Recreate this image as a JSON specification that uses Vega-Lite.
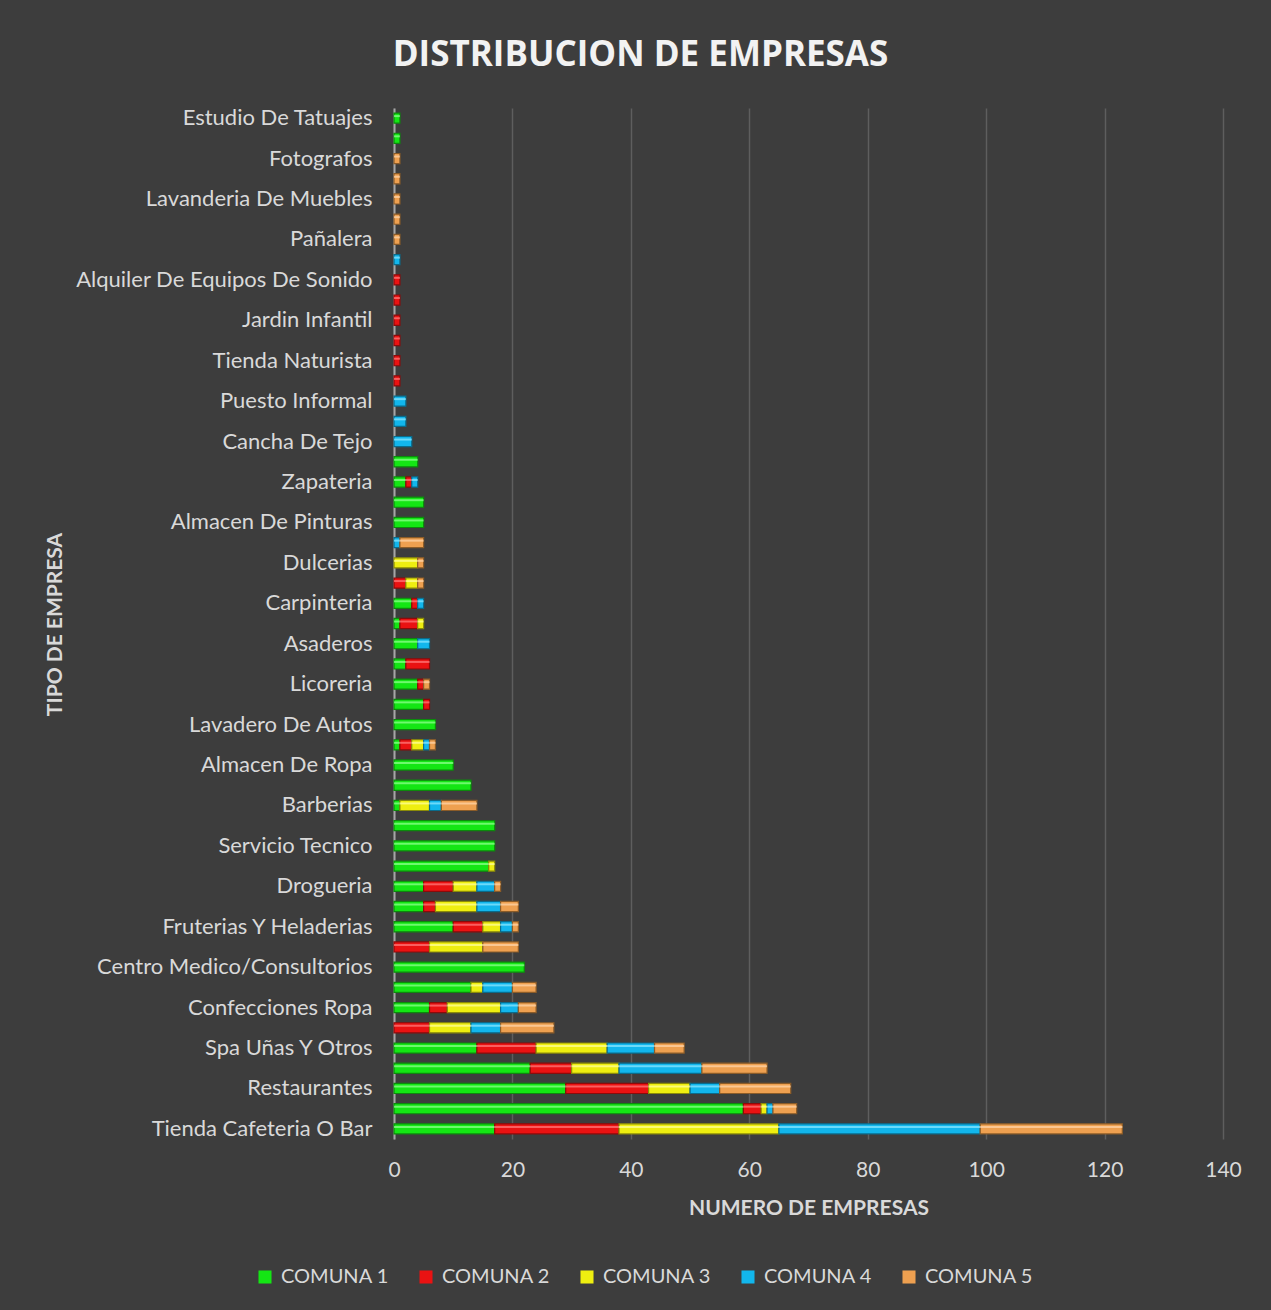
{
  "$schema": "https://vega.github.io/schema/vega-lite/v6.json",
  "width": 829,
  "height": 1031,
  "autosize": "none",
  "padding": {"left": 394, "top": 108, "right": 48, "bottom": 171},
  "background": "#3d3d3d",
  "title": {
    "text": "DISTRIBUCION DE EMPRESAS",
    "font": "Open Sans",
    "fontSize": 35,
    "fontWeight": "bold",
    "color": "#f2f2f2",
    "anchor": "middle",
    "dx": -168,
    "offset": 34
  },
  "config": {
    "view": {"stroke": null},
    "font": "Lato"
  },
  "data": {
    "values": [
      {"t": "Estudio De Tatuajes", "c": "COMUNA 1", "n": 1},
      {"t": "#2", "c": "COMUNA 1", "n": 1},
      {"t": "Fotografos", "c": "COMUNA 5", "n": 1},
      {"t": "#4", "c": "COMUNA 5", "n": 1},
      {"t": "Lavanderia De Muebles", "c": "COMUNA 5", "n": 1},
      {"t": "#6", "c": "COMUNA 5", "n": 1},
      {"t": "Pañalera", "c": "COMUNA 5", "n": 1},
      {"t": "#8", "c": "COMUNA 4", "n": 1},
      {"t": "Alquiler De Equipos De Sonido", "c": "COMUNA 2", "n": 1},
      {"t": "#10", "c": "COMUNA 2", "n": 1},
      {"t": "Jardin Infantil", "c": "COMUNA 2", "n": 1},
      {"t": "#12", "c": "COMUNA 2", "n": 1},
      {"t": "Tienda Naturista", "c": "COMUNA 2", "n": 1},
      {"t": "#14", "c": "COMUNA 2", "n": 1},
      {"t": "Puesto Informal", "c": "COMUNA 4", "n": 2},
      {"t": "#16", "c": "COMUNA 4", "n": 2},
      {"t": "Cancha De Tejo", "c": "COMUNA 4", "n": 3},
      {"t": "#18", "c": "COMUNA 1", "n": 4},
      {"t": "Zapateria", "c": "COMUNA 1", "n": 2},
      {"t": "Zapateria", "c": "COMUNA 2", "n": 1},
      {"t": "Zapateria", "c": "COMUNA 4", "n": 1},
      {"t": "#20", "c": "COMUNA 1", "n": 5},
      {"t": "Almacen De Pinturas", "c": "COMUNA 1", "n": 5},
      {"t": "#22", "c": "COMUNA 4", "n": 1},
      {"t": "#22", "c": "COMUNA 5", "n": 4},
      {"t": "Dulcerias", "c": "COMUNA 3", "n": 4},
      {"t": "Dulcerias", "c": "COMUNA 5", "n": 1},
      {"t": "#24", "c": "COMUNA 2", "n": 2},
      {"t": "#24", "c": "COMUNA 3", "n": 2},
      {"t": "#24", "c": "COMUNA 5", "n": 1},
      {"t": "Carpinteria", "c": "COMUNA 1", "n": 3},
      {"t": "Carpinteria", "c": "COMUNA 2", "n": 1},
      {"t": "Carpinteria", "c": "COMUNA 4", "n": 1},
      {"t": "#26", "c": "COMUNA 1", "n": 1},
      {"t": "#26", "c": "COMUNA 2", "n": 3},
      {"t": "#26", "c": "COMUNA 3", "n": 1},
      {"t": "Asaderos", "c": "COMUNA 1", "n": 4},
      {"t": "Asaderos", "c": "COMUNA 4", "n": 2},
      {"t": "#28", "c": "COMUNA 1", "n": 2},
      {"t": "#28", "c": "COMUNA 2", "n": 4},
      {"t": "Licoreria", "c": "COMUNA 1", "n": 4},
      {"t": "Licoreria", "c": "COMUNA 2", "n": 1},
      {"t": "Licoreria", "c": "COMUNA 5", "n": 1},
      {"t": "#30", "c": "COMUNA 1", "n": 5},
      {"t": "#30", "c": "COMUNA 2", "n": 1},
      {"t": "Lavadero De Autos", "c": "COMUNA 1", "n": 7},
      {"t": "#32", "c": "COMUNA 1", "n": 1},
      {"t": "#32", "c": "COMUNA 2", "n": 2},
      {"t": "#32", "c": "COMUNA 3", "n": 2},
      {"t": "#32", "c": "COMUNA 4", "n": 1},
      {"t": "#32", "c": "COMUNA 5", "n": 1},
      {"t": "Almacen De Ropa", "c": "COMUNA 1", "n": 10},
      {"t": "#34", "c": "COMUNA 1", "n": 13},
      {"t": "Barberias", "c": "COMUNA 1", "n": 1},
      {"t": "Barberias", "c": "COMUNA 3", "n": 5},
      {"t": "Barberias", "c": "COMUNA 4", "n": 2},
      {"t": "Barberias", "c": "COMUNA 5", "n": 6},
      {"t": "#36", "c": "COMUNA 1", "n": 17},
      {"t": "Servicio Tecnico", "c": "COMUNA 1", "n": 17},
      {"t": "#38", "c": "COMUNA 1", "n": 16},
      {"t": "#38", "c": "COMUNA 3", "n": 1},
      {"t": "Drogueria", "c": "COMUNA 1", "n": 5},
      {"t": "Drogueria", "c": "COMUNA 2", "n": 5},
      {"t": "Drogueria", "c": "COMUNA 3", "n": 4},
      {"t": "Drogueria", "c": "COMUNA 4", "n": 3},
      {"t": "Drogueria", "c": "COMUNA 5", "n": 1},
      {"t": "#40", "c": "COMUNA 1", "n": 5},
      {"t": "#40", "c": "COMUNA 2", "n": 2},
      {"t": "#40", "c": "COMUNA 3", "n": 7},
      {"t": "#40", "c": "COMUNA 4", "n": 4},
      {"t": "#40", "c": "COMUNA 5", "n": 3},
      {"t": "Fruterias Y Heladerias", "c": "COMUNA 1", "n": 10},
      {"t": "Fruterias Y Heladerias", "c": "COMUNA 2", "n": 5},
      {"t": "Fruterias Y Heladerias", "c": "COMUNA 3", "n": 3},
      {"t": "Fruterias Y Heladerias", "c": "COMUNA 4", "n": 2},
      {"t": "Fruterias Y Heladerias", "c": "COMUNA 5", "n": 1},
      {"t": "#42", "c": "COMUNA 2", "n": 6},
      {"t": "#42", "c": "COMUNA 3", "n": 9},
      {"t": "#42", "c": "COMUNA 5", "n": 6},
      {"t": "Centro Medico/Consultorios", "c": "COMUNA 1", "n": 22},
      {"t": "#44", "c": "COMUNA 1", "n": 13},
      {"t": "#44", "c": "COMUNA 3", "n": 2},
      {"t": "#44", "c": "COMUNA 4", "n": 5},
      {"t": "#44", "c": "COMUNA 5", "n": 4},
      {"t": "Confecciones Ropa", "c": "COMUNA 1", "n": 6},
      {"t": "Confecciones Ropa", "c": "COMUNA 2", "n": 3},
      {"t": "Confecciones Ropa", "c": "COMUNA 3", "n": 9},
      {"t": "Confecciones Ropa", "c": "COMUNA 4", "n": 3},
      {"t": "Confecciones Ropa", "c": "COMUNA 5", "n": 3},
      {"t": "#46", "c": "COMUNA 2", "n": 6},
      {"t": "#46", "c": "COMUNA 3", "n": 7},
      {"t": "#46", "c": "COMUNA 4", "n": 5},
      {"t": "#46", "c": "COMUNA 5", "n": 9},
      {"t": "Spa Uñas Y Otros", "c": "COMUNA 1", "n": 14},
      {"t": "Spa Uñas Y Otros", "c": "COMUNA 2", "n": 10},
      {"t": "Spa Uñas Y Otros", "c": "COMUNA 3", "n": 12},
      {"t": "Spa Uñas Y Otros", "c": "COMUNA 4", "n": 8},
      {"t": "Spa Uñas Y Otros", "c": "COMUNA 5", "n": 5},
      {"t": "#48", "c": "COMUNA 1", "n": 23},
      {"t": "#48", "c": "COMUNA 2", "n": 7},
      {"t": "#48", "c": "COMUNA 3", "n": 8},
      {"t": "#48", "c": "COMUNA 4", "n": 14},
      {"t": "#48", "c": "COMUNA 5", "n": 11},
      {"t": "Restaurantes", "c": "COMUNA 1", "n": 29},
      {"t": "Restaurantes", "c": "COMUNA 2", "n": 14},
      {"t": "Restaurantes", "c": "COMUNA 3", "n": 7},
      {"t": "Restaurantes", "c": "COMUNA 4", "n": 5},
      {"t": "Restaurantes", "c": "COMUNA 5", "n": 12},
      {"t": "#50", "c": "COMUNA 1", "n": 59},
      {"t": "#50", "c": "COMUNA 2", "n": 3},
      {"t": "#50", "c": "COMUNA 3", "n": 1},
      {"t": "#50", "c": "COMUNA 4", "n": 1},
      {"t": "#50", "c": "COMUNA 5", "n": 4},
      {"t": "Tienda Cafeteria O Bar", "c": "COMUNA 1", "n": 17},
      {"t": "Tienda Cafeteria O Bar", "c": "COMUNA 2", "n": 21},
      {"t": "Tienda Cafeteria O Bar", "c": "COMUNA 3", "n": 27},
      {"t": "Tienda Cafeteria O Bar", "c": "COMUNA 4", "n": 34},
      {"t": "Tienda Cafeteria O Bar", "c": "COMUNA 5", "n": 24}
    ]
  },
  "encoding": {
    "y": {
      "field": "t",
      "type": "nominal",
      "sort": null,
      "scale": {"paddingInner": 0.5, "paddingOuter": 0.25},
      "axis": {
        "title": "TIPO DE EMPRESA",
        "titleFont": "Lato",
        "titleFontSize": 21,
        "titleFontWeight": "bold",
        "titleColor": "#d9d9d9",
        "titleAngle": -90,
        "titleBaseline": "middle",
        "titleAlign": "center",
        "titleX": -339,
        "titleY": 516,
        "labelExpr": "indexof(datum.label, '#') === 0 ? '' : datum.label",
        "labelFont": "Lato",
        "labelFontSize": 22,
        "labelColor": "#d9d9d9",
        "labelPadding": 22,
        "labelLimit": 400,
        "ticks": false,
        "domain": true,
        "domainColor": "#a6a6a6",
        "domainWidth": 2,
        "grid": false
      }
    },
    "x": {
      "field": "n",
      "type": "quantitative",
      "stack": "zero",
      "scale": {"domain": [0, 140], "nice": false},
      "axis": {
        "title": "NUMERO DE EMPRESAS",
        "titleFont": "Lato",
        "titleFontSize": 21,
        "titleFontWeight": "bold",
        "titleColor": "#d9d9d9",
        "titlePadding": 17,
        "values": [0, 20, 40, 60, 80, 100, 120, 140],
        "labelFont": "Lato",
        "labelFontSize": 21,
        "labelColor": "#d9d9d9",
        "labelPadding": 20,
        "labelFlush": false,
        "ticks": false,
        "domain": false,
        "grid": true,
        "gridColor": "#5e5e5e",
        "gridWidth": 1.5
      }
    },
    "order": {"field": "c", "type": "nominal"}
  },
  "layer": [
    {
      "mark": {"type": "bar", "strokeWidth": 1.2},
      "encoding": {
        "color": {
          "field": "c",
          "type": "nominal",
          "scale": {
            "domain": ["COMUNA 1", "COMUNA 2", "COMUNA 3", "COMUNA 4", "COMUNA 5"],
            "range": ["#14e614", "#ea1212", "#eeee10", "#12b6ec", "#eea050"]
          },
          "legend": {
            "title": null,
            "orient": "none",
            "direction": "horizontal",
            "legendX": -139,
            "legendY": 1159,
            "symbolType": "square",
            "symbolSize": 170,
            "symbolStrokeWidth": 0,
            "labelFont": "Lato",
            "labelFontSize": 20,
            "labelColor": "#d9d9d9",
            "labelOffset": 6,
            "columnPadding": 27
          }
        },
        "stroke": {
          "field": "c",
          "type": "nominal",
          "scale": {
            "domain": ["COMUNA 1", "COMUNA 2", "COMUNA 3", "COMUNA 4", "COMUNA 5"],
            "range": ["#0c8a0c", "#8c0a0a", "#8c8c08", "#0a6c8c", "#8c5c28"]
          },
          "legend": null
        }
      }
    },
    {
      "mark": {"type": "bar", "height": 2, "yOffset": -2, "opacity": 0.75},
      "encoding": {
        "color": {
          "field": "c",
          "type": "nominal",
          "scale": {
            "domain": ["COMUNA 1", "COMUNA 2", "COMUNA 3", "COMUNA 4", "COMUNA 5"],
            "range": ["#8cff8c", "#ff7a7a", "#ffff9a", "#8ae6ff", "#ffd4a8"]
          },
          "legend": null
        }
      }
    }
  ],
  "resolve": {"scale": {"color": "independent"}}
}
